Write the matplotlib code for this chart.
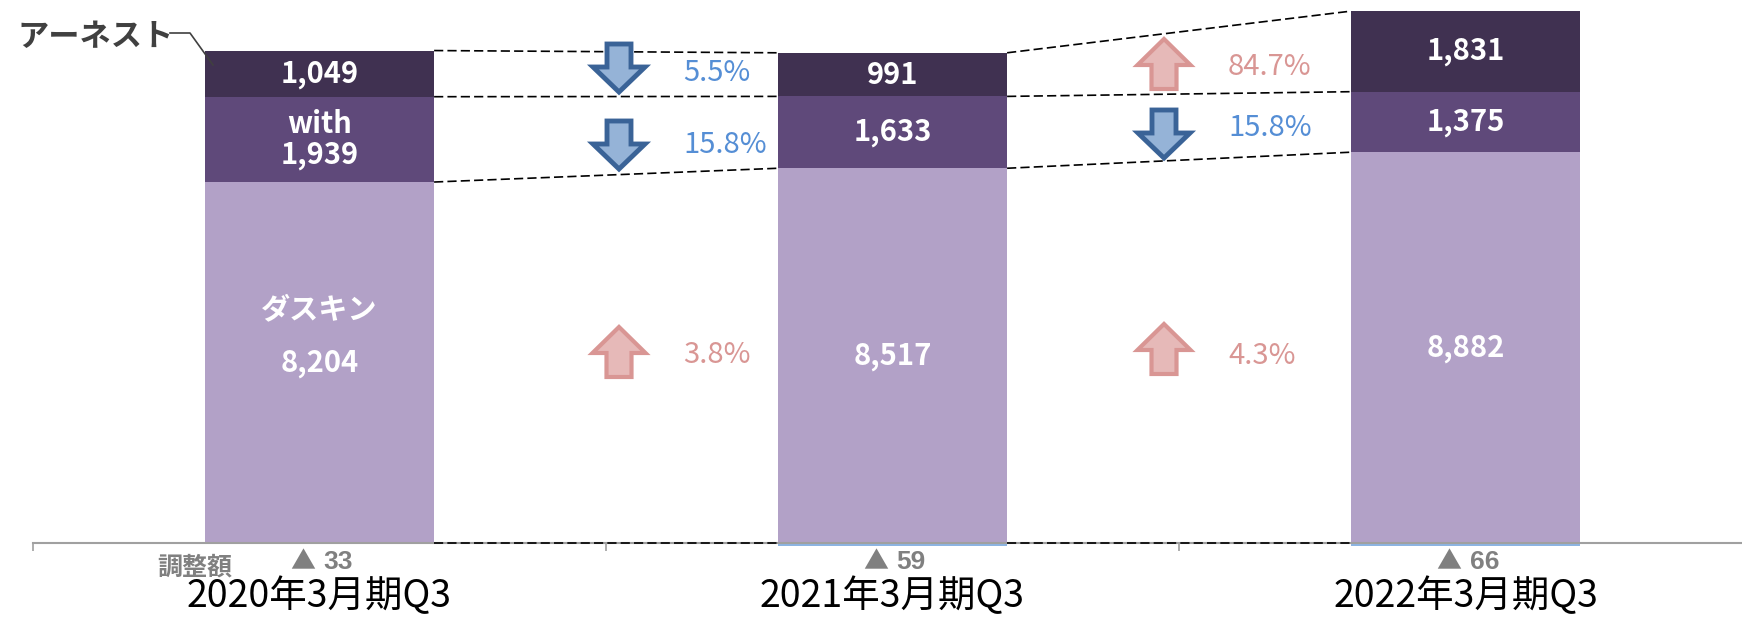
import matplotlib.pyplot as plt
from matplotlib.patches import FancyArrow

plt.rcParams['font.family'] = ['Noto Sans CJK JP', 'DejaVu Sans']

# datos
periods = ['2020年3月期Q3', '2021年3月期Q3', '2022年3月期Q3']
duskin = [8204, 8517, 8882]
with_ = [1939, 1633, 1375]
earnest = [1049, 991, 1831]
adjust = [33, 59, 66]

# variacion entre periodos (duskin, with, earnest)
chg_duskin = ['3.8%', '4.3%']
chg_with = ['15.8%', '15.8%']
chg_earnest = ['5.5%', '84.7%']
up_duskin = [True, True]
up_with = [False, False]
up_earnest = [False, True]

C_EARNEST = '#403151'
C_WITH = '#5F497A'
C_DUSKIN = '#B2A1C7'
C_ADJ = '#8DB4E2'
UP_FILL, UP_EDGE, UP_TEXT = '#E6B9B8', '#D99694', '#D99694'
DN_FILL, DN_EDGE, DN_TEXT = '#95B3D7', '#3A6397', '#558ED5'

W, H = 1742, 617
PX_Y = 0.044          # pixeles por unidad
AXIS_PX = 543         # linea del eje, desde arriba
CAT_PX = 573          # ancho de cada categoria
LEFT_PX = 33
BAR_W = 0.4

fig = plt.figure(figsize=(W / 100, H / 100), dpi=100)
ax = fig.add_axes([LEFT_PX / W, 0, 3 * CAT_PX / W, 1])
ax.set_xlim(-0.5, 2.5)
ax.set_ylim(-(H - AXIS_PX) / PX_Y, AXIS_PX / PX_Y)

def px_y(p):  # pixel desde arriba -> valor
    return (AXIS_PX - p) / PX_Y

def px_x(p):  # pixel desde izquierda -> x
    return (p - LEFT_PX) / CAT_PX - 0.5

x = list(range(len(periods)))
base_with = [d for d in duskin]
base_earn = [d + w for d, w in zip(duskin, with_)]
tops = [b + e for b, e in zip(base_earn, earnest)]

ax.bar(x, duskin, BAR_W, color=C_DUSKIN, zorder=2)
ax.bar(x, with_, BAR_W, bottom=base_with, color=C_WITH, zorder=2)
ax.bar(x, earnest, BAR_W, bottom=base_earn, color=C_EARNEST, zorder=2)
ax.bar(x, [-a for a in adjust], BAR_W, color=C_ADJ, zorder=2)

# lineas punteadas entre barras
levels = [[0] * 3, base_with, base_earn, tops]
for lev in levels:
    for i in range(len(x) - 1):
        ax.plot([x[i] + BAR_W / 2, x[i + 1] - BAR_W / 2], [lev[i], lev[i + 1]],
                color='black', lw=1.2, linestyle=(0, (5.5, 2.5)), zorder=4)

# etiquetas en las barras
lab = dict(color='white', fontsize=21, fontweight='bold', ha='center', va='center', zorder=5)
for i in x:
    ax.text(x[i], duskin[i] / 2, f'{duskin[i]:,}', **lab)
    wtxt = f'with\n{with_[i]:,}' if i == 0 else f'{with_[i]:,}'
    ax.text(x[i], base_with[i] + with_[i] / 2, wtxt, linespacing=1.05, **lab)
    ax.text(x[i], base_earn[i] + earnest[i] / 2, f'{earnest[i]:,}', **lab)
ax.annotate('ダスキン', (x[0], duskin[0] / 2), xytext=(0, 38), textcoords='offset points', **lab)

# flechas y porcentajes
arrow_x = [px_x(619), px_x(1164)]
text_x = [px_x(683), px_x(1228)]
arrow_py = [[352, 145, 68], [349, 134, 64]]
text_py = [[355, 145, 73], [356, 128, 67]]

def draw_arrow(xc, yc, up):
    if up:
        shaft, head, length, hl, fc, ec, lw = 25, 53, 50, 26, UP_FILL, UP_EDGE, 3.0
    else:
        shaft, head, length, hl, fc, ec, lw = 24, 52, 48, 25, DN_FILL, DN_EDGE, 3.5
    L = length / PX_Y
    y0 = yc - L / 2 if up else yc + L / 2
    dy = L if up else -L
    ax.add_patch(FancyArrow(xc, y0, 0, dy, width=shaft / CAT_PX, head_width=head / CAT_PX,
                            head_length=hl / PX_Y, length_includes_head=True,
                            facecolor=fc, edgecolor=ec, lw=lw, joinstyle='miter', zorder=5))

series = [(chg_duskin, up_duskin), (chg_with, up_with), (chg_earnest, up_earnest)]
for g in range(2):
    for k, (chg, ups) in enumerate(series):
        draw_arrow(arrow_x[g], px_y(arrow_py[g][k]), ups[g])
        ax.text(text_x[g], px_y(text_py[g][k]), chg[g], fontsize=21,
                color=UP_TEXT if ups[g] else DN_TEXT, ha='left', va='center')

# etiqueta アーネスト
ax.text(px_x(17), px_y(37), 'アーネスト', fontsize=22.5, fontweight='bold', color='#404040',
        ha='left', va='center')
ax.plot([px_x(170), px_x(190), px_x(213)], [px_y(33), px_y(33), px_y(65)],
        color='#404040', lw=1.2, zorder=6)

# ajustes
for i in x:
    ax.annotate('▲', (x[i], px_y(562)), xytext=(-3, 0), textcoords='offset points',
                fontsize=18, color='#808080', ha='right', va='center',
                family=['Noto Sans CJK JP'])
    ax.annotate(f'{adjust[i]}', (x[i], px_y(562)), xytext=(3, 0), textcoords='offset points',
                fontsize=19, fontweight='bold', color='#808080', ha='left', va='center',
                family=['Liberation Sans', 'DejaVu Sans'])
ax.text(px_x(195), px_y(568), '調整額', fontsize=18, fontweight='bold', color='#808080',
        ha='center', va='center')

# periodos
for i in x:
    ax.text(x[i], px_y(607), periods[i], fontsize=27, color='black', ha='center', va='baseline')

# eje
for s in ['left', 'right', 'top']:
    ax.spines[s].set_visible(False)
ax.spines['bottom'].set_position(('data', 0))
ax.spines['bottom'].set_color('#A0A0A0')
ax.spines['bottom'].set_linewidth(1.5)
ax.set_xticks([-0.5, 0.5, 1.5, 2.5])
ax.set_xticklabels([])
ax.tick_params(axis='x', direction='out', length=6, width=1.2, color='#A0A0A0')
ax.set_yticks([])
ax.patch.set_alpha(0)

fig.savefig('out.png', dpi=100)
